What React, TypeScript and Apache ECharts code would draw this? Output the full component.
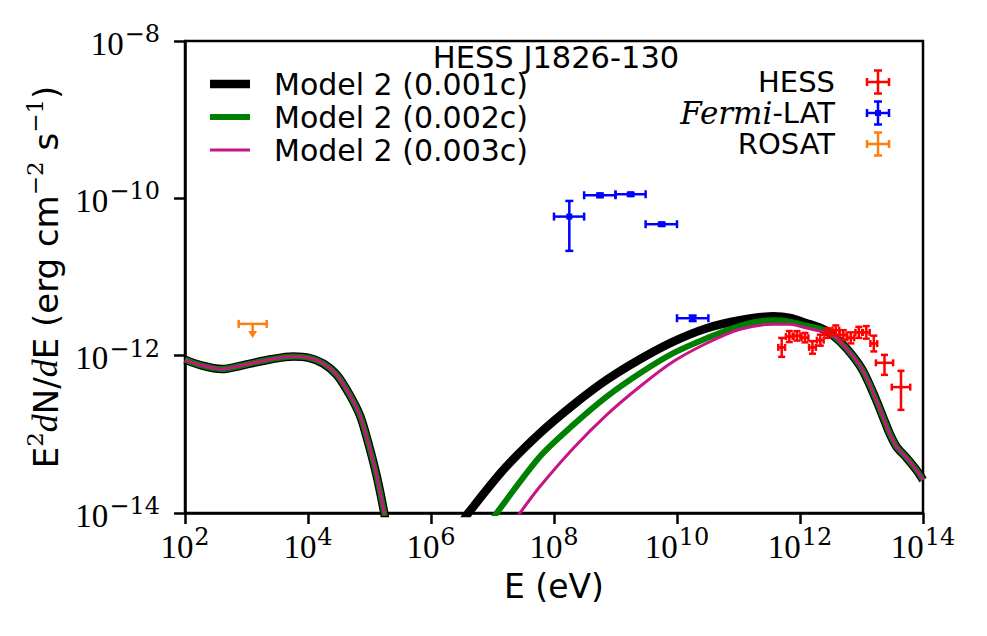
import React, { useEffect, useRef } from 'react';
import * as echarts from 'echarts';

// ---- Data (log10 of E in eV, log10 of E^2 dN/dE in erg cm^-2 s^-1) ----
const SYNC_LOG_E = [2.0, 2.25, 2.6, 3.0, 3.4, 3.76, 4.03, 4.25, 4.47, 4.68, 4.85, 4.98, 5.12, 5.24, 5.4];
const SYNC_LOG_F = [-12.05, -12.12, -12.17, -12.11, -12.045, -12.01, -12.03, -12.1, -12.245, -12.5, -12.77, -13.11, -13.54, -14.0, -14.7];

const IC1_LOG_E = [6.4, 6.607, 7.19, 7.772, 8.314, 8.857, 9.398, 9.94, 10.483, 11.024, 11.566, 11.837, 12.109, 12.325];
const IC1_LOG_F = [-14.22, -14.0, -13.44, -12.985, -12.625, -12.307, -12.045, -11.821, -11.651, -11.55, -11.5, -11.52, -11.587, -11.645];
const IC2_LOG_E = [6.85, 7.068, 7.772, 8.314, 8.857, 9.398, 9.94, 10.483, 11.024, 11.566, 11.837, 12.109, 12.325];
const IC2_LOG_F = [-14.23, -14.0, -13.282, -12.879, -12.52, -12.223, -11.968, -11.778, -11.62, -11.55, -11.567, -11.62, -11.66];
const IC3_LOG_E = [7.25, 7.447, 7.772, 8.314, 8.857, 9.398, 9.94, 10.483, 11.024, 11.566, 11.837, 12.109, 12.325];
const IC3_LOG_F = [-14.23, -14.0, -13.663, -13.176, -12.752, -12.392, -12.075, -11.842, -11.665, -11.6, -11.6, -11.65, -11.685];
const TAIL_LOG_E = [12.488, 12.65, 12.867, 13.03, 13.225, 13.388, 13.47, 13.572, 13.735, 13.9, 14.0];
const TAIL_LOG_F = [-11.714, -11.821, -12.011, -12.2, -12.536, -12.854, -13.01, -13.16, -13.3, -13.46, -13.58];

const MODEL_NAMES = ['Model 2 (0.001c)', 'Model 2 (0.002c)', 'Model 2 (0.003c)'];

const HESS_LOG_E = [11.702, 11.826, 11.951, 12.081, 12.203, 12.33, 12.452, 12.582, 12.704, 12.826, 12.956, 13.078, 13.2, 13.374, 13.642];
const HESS_LOG_F = [-11.895, -11.757, -11.748, -11.771, -11.895, -11.803, -11.714, -11.676, -11.736, -11.774, -11.704, -11.704, -11.846, -12.091, -12.4];
const HESS_DLOG_E = [0.055, 0.055, 0.055, 0.055, 0.055, 0.055, 0.055, 0.055, 0.055, 0.055, 0.055, 0.055, 0.055, 0.14, 0.15];
const HESS_ERR_LO = [0.12, 0.07, 0.06, 0.06, 0.08, 0.07, 0.06, 0.06, 0.06, 0.07, 0.07, 0.08, 0.1, 0.153, 0.289];
const HESS_ERR_HI = [0.12, 0.07, 0.06, 0.06, 0.08, 0.07, 0.06, 0.06, 0.06, 0.07, 0.07, 0.08, 0.1, 0.101, 0.207];

const FERMI_LOG_E = [8.249, 8.748, 9.247, 9.751, 10.255];
const FERMI_E_LO = [8.0, 8.49, 9.0, 9.49, 10.0];
const FERMI_E_HI = [8.49, 9.0, 9.49, 10.0, 10.51];
const FERMI_LOG_F = [-10.232, -9.961, -9.948, -10.329, -11.524];
const FERMI_F_LO = [-10.668, -9.985, -9.97, -10.35, -11.56];
const FERMI_F_HI = [-10.033, -9.94, -9.93, -10.31, -11.49];

const ROSAT_LOG_E = [3.1];
const ROSAT_E_LO = [2.873];
const ROSAT_E_HI = [3.328];
const ROSAT_LOG_F = [-11.596];
const ROSAT_ARROW = [0.18];

const X_TICKS = [2, 4, 6, 8, 10, 12, 14];
const Y_TICKS = [-14, -12, -10, -8];

const TITLE = 'HESS J1826-130';
const X_NAME = 'E (eV)';

const SANS = '"DejaVu Sans", sans-serif';
const SERIF = '"Liberation Serif", "DejaVu Serif", serif';
const SERIF2 = '"DejaVu Serif", serif';

const COLORS = {
  m1: '#000000',
  m2: '#008000',
  m3: '#c71585',
  hess: '#ff0000',
  fermi: '#0000ff',
  rosat: '#ff7f0e',
};

function pairs(xs: number[], ys: number[]) {
  return xs.map((x, i) => [x, ys[i]]);
}

function expLabel(v: number) {
  const s = v < 0 ? '\u2212' + Math.abs(v) : String(v);
  return `{b|10}{s|${s}}`;
}

const tickRich = {
  b: { fontFamily: SERIF, fontSize: 33, lineHeight: 38, verticalAlign: 'bottom', color: '#000' },
  s: { fontFamily: SERIF2, fontSize: 24, lineHeight: 22, verticalAlign: 'top', color: '#000', padding: [0, 0, 0, 1] },
};

function errRender(color: string, cap: number, marker: number, lw: number) {
  return (params: any, api: any) => {
    const x = api.value(0);
    const y = api.value(1);
    const c = api.coord([x, y]);
    const xl = api.coord([api.value(2), y])[0];
    const xh = api.coord([api.value(3), y])[0];
    const yl = api.coord([x, api.value(4)])[1];
    const yh = api.coord([x, api.value(5)])[1];
    const st = { stroke: color, lineWidth: lw };
    const h = cap / 2;
    const children: any[] = [
      { type: 'line', shape: { x1: xl, y1: c[1], x2: xh, y2: c[1] }, style: st },
      { type: 'line', shape: { x1: c[0], y1: yl, x2: c[0], y2: yh }, style: st },
      { type: 'line', shape: { x1: xl, y1: c[1] - h, x2: xl, y2: c[1] + h }, style: st },
      { type: 'line', shape: { x1: xh, y1: c[1] - h, x2: xh, y2: c[1] + h }, style: st },
      { type: 'line', shape: { x1: c[0] - h, y1: yl, x2: c[0] + h, y2: yl }, style: st },
      { type: 'line', shape: { x1: c[0] - h, y1: yh, x2: c[0] + h, y2: yh }, style: st },
    ];
    if (marker > 0) {
      children.push({
        type: 'rect',
        shape: { x: c[0] - marker / 2, y: c[1] - marker / 2, width: marker, height: marker },
        style: { fill: color },
      });
    }
    return { type: 'group', children };
  };
}

function ulRender(color: string, cap: number, lw: number) {
  return (params: any, api: any) => {
    const x = api.value(0);
    const y = api.value(1);
    const c = api.coord([x, y]);
    const xl = api.coord([api.value(2), y])[0];
    const xh = api.coord([api.value(3), y])[0];
    const tip = api.coord([x, y - api.value(4)])[1];
    const st = { stroke: color, lineWidth: lw };
    const h = cap / 2;
    return {
      type: 'group',
      children: [
        { type: 'line', shape: { x1: xl, y1: c[1], x2: xh, y2: c[1] }, style: st },
        { type: 'line', shape: { x1: xl, y1: c[1] - h, x2: xl, y2: c[1] + h }, style: st },
        { type: 'line', shape: { x1: xh, y1: c[1] - h, x2: xh, y2: c[1] + h }, style: st },
        { type: 'line', shape: { x1: c[0], y1: c[1], x2: c[0], y2: tip - 6 }, style: st },
        {
          type: 'polygon',
          shape: { points: [[c[0] - 4.5, tip - 7], [c[0] + 4.5, tip - 7], [c[0], tip]] },
          style: { fill: color },
        },
      ],
    };
  };
}

function legendCross(cx: number, cy: number, color: string, marker: number) {
  const st = { stroke: color, lineWidth: 2.5 };
  const hw = 11;
  const hh = 11.5;
  const h = 4;
  const ch: any[] = [
    { type: 'line', shape: { x1: cx - hw, y1: cy, x2: cx + hw, y2: cy }, style: st },
    { type: 'line', shape: { x1: cx, y1: cy - hh, x2: cx, y2: cy + hh }, style: st },
    { type: 'line', shape: { x1: cx - hw, y1: cy - h, x2: cx - hw, y2: cy + h }, style: st },
    { type: 'line', shape: { x1: cx + hw, y1: cy - h, x2: cx + hw, y2: cy + h }, style: st },
    { type: 'line', shape: { x1: cx - h, y1: cy - hh, x2: cx + h, y2: cy - hh }, style: st },
    { type: 'line', shape: { x1: cx - h, y1: cy + hh, x2: cx + h, y2: cy + hh }, style: st },
  ];
  if (marker > 0) {
    ch.push({ type: 'rect', shape: { x: cx - marker / 2, y: cy - marker / 2, width: marker, height: marker }, style: { fill: color } });
  }
  return { type: 'group', children: ch };
}

export default function App() {
  const ref = useRef<HTMLDivElement>(null);

  useEffect(() => {
    if (!ref.current) return;
    const chart = echarts.init(ref.current, null, { renderer: 'svg' });

    const sync = pairs(SYNC_LOG_E, SYNC_LOG_F);
    const tail = pairs(TAIL_LOG_E, TAIL_LOG_F);
    const modelData = [
      [...sync, ...pairs(IC1_LOG_E, IC1_LOG_F), ...tail],
      [...sync, ...pairs(IC2_LOG_E, IC2_LOG_F), ...tail],
      [...sync, ...pairs(IC3_LOG_E, IC3_LOG_F), ...tail],
    ];
    const modelColors = [COLORS.m1, COLORS.m2, COLORS.m3];
    const modelWidths = [8.5, 6, 3];

    const hessData = HESS_LOG_E.map((e, i) => [
      e,
      HESS_LOG_F[i],
      e - HESS_DLOG_E[i],
      e + HESS_DLOG_E[i],
      HESS_LOG_F[i] - HESS_ERR_LO[i],
      HESS_LOG_F[i] + HESS_ERR_HI[i],
    ]);
    const fermiData = FERMI_LOG_E.map((e, i) => [e, FERMI_LOG_F[i], FERMI_E_LO[i], FERMI_E_HI[i], FERMI_F_LO[i], FERMI_F_HI[i]]);
    const rosatData = ROSAT_LOG_E.map((e, i) => [e, ROSAT_LOG_F[i], ROSAT_E_LO[i], ROSAT_E_HI[i], ROSAT_ARROW[i]]);

    const series: any[] = modelData.map((d, i) => ({
      name: MODEL_NAMES[i],
      type: 'line',
      data: d,
      showSymbol: false,
      symbol: 'none',
      smooth: 0.3,
      clip: true,
      lineStyle: { color: modelColors[i], width: modelWidths[i], cap: 'butt', join: 'round' },
      z: 2 + i,
    }));

    series.push({
      name: 'HESS',
      type: 'custom',
      renderItem: errRender(COLORS.hess, 7, 3, 2.5),
      data: hessData,
      encode: { x: 0, y: 1 },
      z: 10,
    });
    series.push({
      name: 'Fermi-LAT',
      type: 'custom',
      renderItem: errRender(COLORS.fermi, 8, 6, 2.5),
      data: fermiData,
      encode: { x: 0, y: 1 },
      z: 10,
    });
    series.push({
      name: 'ROSAT',
      type: 'custom',
      renderItem: ulRender(COLORS.rosat, 8, 2.5),
      data: rosatData,
      encode: { x: 0, y: 1 },
      z: 10,
    });

    const legendLeft: any[] = [];
    const rowsY = [84, 117, 150];
    MODEL_NAMES.forEach((n, i) => {
      legendLeft.push({
        type: 'line',
        shape: { x1: 210, y1: rowsY[i], x2: 250, y2: rowsY[i] },
        style: { stroke: modelColors[i], lineWidth: modelWidths[i] },
      });
      legendLeft.push({
        type: 'text',
        x: 274,
        y: rowsY[i],
        style: {
          text: n,
          fontSize: 30,
          fontFamily: SANS,
          lineHeight: 31,
          fill: '#000',
          align: 'left',
          textAlign: 'left',
          verticalAlign: 'middle',
          textVerticalAlign: 'middle',
        },
      });
    });

    const rRows = [82, 113, 144];
    const rStyle = {
      fontSize: 29,
      fontFamily: SANS,
      lineHeight: 28,
      fill: '#000',
      align: 'right',
      textAlign: 'right',
      verticalAlign: 'middle',
      textVerticalAlign: 'middle',
    };
    const rightLegend: any[] = [
      { type: 'text', x: 835, y: rRows[0], style: { ...rStyle, text: 'HESS' } },
      {
        type: 'text',
        x: 835,
        y: rRows[1],
        style: {
          ...rStyle,
          text: '{it|Fermi}{n|-LAT}',
          rich: {
            it: { fontFamily: SERIF2, fontStyle: 'italic', fontSize: 31, lineHeight: 28, color: '#000' },
            n: { fontFamily: SANS, fontSize: 29, lineHeight: 28, color: '#000' },
          },
        },
      },
      { type: 'text', x: 835, y: rRows[2], style: { ...rStyle, text: 'ROSAT' } },
      legendCross(878, rRows[0], COLORS.hess, 3),
      legendCross(878, rRows[1], COLORS.fermi, 6),
      legendCross(878, rRows[2], COLORS.rosat, 0),
    ];

    const option: any = {
      animation: false,
      backgroundColor: '#ffffff',
      grid: {
        left: 185,
        right: 64,
        top: 41,
        bottom: 123,
        show: true,
        borderColor: '#000',
        borderWidth: 2.5,
        backgroundColor: 'transparent',
      },
      xAxis: {
        type: 'value',
        min: X_TICKS[0],
        max: X_TICKS[X_TICKS.length - 1],
        interval: 2,
        name: X_NAME,
        nameLocation: 'middle',
        nameGap: 57,
        nameTextStyle: { fontFamily: SANS, fontSize: 33, color: '#000' },
        axisLine: { show: true, onZero: false, lineStyle: { color: '#000', width: 2.5 } },
        axisTick: { show: true, inside: false, length: 11, lineStyle: { color: '#000', width: 2.5 } },
        splitLine: { show: false },
        axisLabel: { margin: 12, formatter: (v: number) => expLabel(v), rich: tickRich },
      },
      yAxis: {
        type: 'value',
        min: Y_TICKS[0],
        max: Y_TICKS[Y_TICKS.length - 1],
        interval: 2,
        name: '{n|E}{sp|2}{i|d}{n|N/}{i|d}{n|E (erg cm}{sp|\u22122}{n| s}{sp|\u22121}{n|)}',
        nameLocation: 'middle',
        nameGap: 122,
        nameTextStyle: {
          rich: {
            n: { fontFamily: SANS, fontSize: 34, color: '#000', lineHeight: 40, verticalAlign: 'bottom' },
            i: { fontFamily: SERIF, fontStyle: 'italic', fontSize: 36, color: '#000', lineHeight: 40, verticalAlign: 'bottom' },
            sp: { fontFamily: SERIF2, fontSize: 23, color: '#000', lineHeight: 22, verticalAlign: 'top' },
          },
        },
        axisLine: { show: true, onZero: false, lineStyle: { color: '#000', width: 2.5 } },
        axisTick: { show: true, inside: false, length: 11, lineStyle: { color: '#000', width: 2.5 } },
        splitLine: { show: false },
        axisLabel: { margin: 25, formatter: (v: number) => expLabel(v), rich: tickRich },
      },
      graphic: [
        {
          type: 'text',
          x: 556,
          y: 57,
          style: {
            text: TITLE,
            fontSize: 30.5,
            fontFamily: SANS,
            lineHeight: 30,
            fill: '#000',
            align: 'center',
            textAlign: 'center',
            verticalAlign: 'middle',
            textVerticalAlign: 'middle',
          },
          z: 100,
        },
        ...legendLeft,
        ...rightLegend,
      ],
      series,
    };

    chart.setOption(option);
    return () => {
      chart.dispose();
    };
  }, []);

  return <div ref={ref} style={{ position: 'absolute', left: 0, top: 0, width: 987, height: 636 }} />;
}
